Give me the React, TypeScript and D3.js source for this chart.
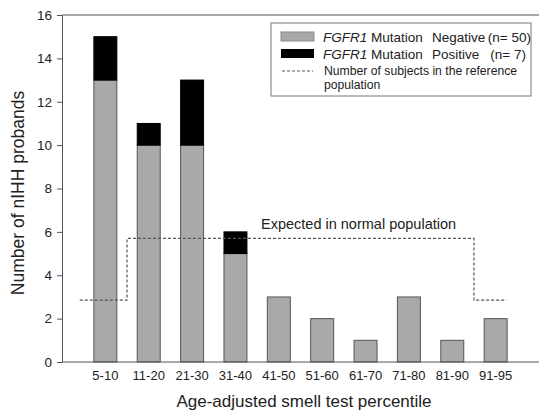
import { useEffect, useRef } from 'react';
import * as d3 from 'd3';

const categories = ['5-10', '11-20', '21-30', '31-40', '41-50', '51-60', '61-70', '71-80', '81-90', '91-95'];
const negative = [13, 10, 10, 5, 3, 2, 1, 3, 1, 2];
const positive = [2, 1, 3, 1, 0, 0, 0, 0, 0, 0];
const expected = [2.85, 5.7, 5.7, 5.7, 5.7, 5.7, 5.7, 5.7, 5.7, 2.85];
const yTicks = [0, 2, 4, 6, 8, 10, 12, 14, 16];

const FONT = 'Arial, "Liberation Sans", sans-serif';

const App = () => {
  const svgRef = useRef<SVGSVGElement>(null);

  useEffect(() => {
    const svg = d3.select(svgRef.current);
    svg.selectAll('*').remove();

    const left = 62;
    const right = 539;
    const top = 15;
    const bottom = 362;

    const x = d3.scaleLinear().domain([0, 11]).range([left, right]);
    const y = d3.scaleLinear().domain([0, 16]).range([bottom, top]);
    const barW = x(0.53) - x(0);

    // bars: negative (gray) then positive stacked on top
    categories.forEach((c, i) => {
      const cx = x(i + 1);
      svg.append('rect')
        .attr('x', cx - barW / 2)
        .attr('y', y(negative[i]))
        .attr('width', barW)
        .attr('height', y(0) - y(negative[i]))
        .attr('fill', '#a9a9a9')
        .attr('stroke', '#555')
        .attr('stroke-width', 1);
      if (positive[i] > 0) {
        svg.append('rect')
          .attr('x', cx - barW / 2)
          .attr('y', y(negative[i] + positive[i]))
          .attr('width', barW)
          .attr('height', y(negative[i]) - y(negative[i] + positive[i]))
          .attr('fill', '#000')
          .attr('stroke', '#000')
          .attr('stroke-width', 1);
      }
    });

    // expected population step line
    const pts: [number, number][] = expected.map((v, i) => [i + 1, v]);
    pts.unshift([0.41, expected[0]]);
    pts.push([10.25, expected[expected.length - 1]]);
    const line = d3.line<[number, number]>()
      .x((d) => x(d[0]))
      .y((d) => y(d[1]))
      .curve(d3.curveStep);
    svg.append('path')
      .datum(pts)
      .attr('d', line)
      .attr('fill', 'none')
      .attr('stroke', '#555')
      .attr('stroke-width', 1.2)
      .attr('stroke-dasharray', '3,2');

    svg.append('text')
      .attr('x', 261)
      .attr('y', 229)
      .attr('font-family', FONT)
      .attr('font-size', 14.5)
      .attr('fill', '#222')
      .text('Expected in normal population');

    // frame lines
    svg.append('line')
      .attr('x1', left).attr('x2', right)
      .attr('y1', top).attr('y2', top)
      .attr('stroke', '#555');
    svg.append('line')
      .attr('x1', left).attr('x2', right)
      .attr('y1', bottom).attr('y2', bottom)
      .attr('stroke', '#555');

    // y axis
    const yAxis = svg.append('g')
      .attr('transform', `translate(${left},0)`)
      .call(d3.axisLeft(y).tickValues(yTicks).tickSize(5).tickPadding(5));
    yAxis.select('.domain').attr('stroke', '#555');
    yAxis.selectAll('line').attr('stroke', '#555');
    yAxis.selectAll('text')
      .attr('font-family', FONT)
      .attr('font-size', 13.5)
      .attr('fill', '#222');

    // x labels
    categories.forEach((c, i) => {
      svg.append('text')
        .attr('x', x(i + 1))
        .attr('y', 380)
        .attr('text-anchor', 'middle')
        .attr('font-family', FONT)
        .attr('font-size', 13)
        .attr('fill', '#222')
        .text(c);
    });

    svg.append('text')
      .attr('x', 304)
      .attr('y', 407)
      .attr('text-anchor', 'middle')
      .attr('font-family', FONT)
      .attr('font-size', 17)
      .attr('fill', '#222')
      .text('Age-adjusted smell test percentile');

    svg.append('text')
      .attr('transform', 'rotate(-90)')
      .attr('x', -193)
      .attr('y', 24)
      .attr('text-anchor', 'middle')
      .attr('font-family', FONT)
      .attr('font-size', 17.5)
      .attr('fill', '#222')
      .text('Number of nIHH probands');

    // legend
    const lg = svg.append('g');
    lg.append('rect')
      .attr('x', 271).attr('y', 23)
      .attr('width', 260).attr('height', 73)
      .attr('fill', '#fff')
      .attr('stroke', '#777');
    lg.append('rect')
      .attr('x', 281).attr('y', 32).attr('width', 33).attr('height', 9)
      .attr('fill', '#a9a9a9').attr('stroke', '#888');
    lg.append('rect')
      .attr('x', 281).attr('y', 49).attr('width', 33).attr('height', 9)
      .attr('fill', '#000');
    lg.append('line')
      .attr('x1', 282).attr('x2', 313)
      .attr('y1', 71).attr('y2', 71)
      .attr('stroke', '#555')
      .attr('stroke-dasharray', '3,2');

    const row = (yy: number, status: string, n: string, nEnd: number) => {
      const t = lg.append('text')
        .attr('x', 323).attr('y', yy)
        .attr('font-family', FONT)
        .attr('font-size', 13.5)
        .attr('fill', '#222');
      t.append('tspan').attr('font-style', 'italic').text('FGFR1');
      t.append('tspan').text(' Mutation');
      lg.append('text')
        .attr('x', 432).attr('y', yy)
        .attr('font-family', FONT)
        .attr('font-size', 13.5)
        .attr('fill', '#222')
        .text(status);
      lg.append('text')
        .attr('x', nEnd).attr('y', yy)
        .attr('text-anchor', 'end')
        .attr('font-family', FONT)
        .attr('font-size', 13.5)
        .attr('fill', '#222')
        .text(n);
    };
    row(42, 'Negative', '(n= 50)', 531);
    row(59, 'Positive', '(n= 7)', 526);

    lg.append('text')
      .attr('x', 324).attr('y', 75)
      .attr('font-family', FONT)
      .attr('font-size', 12.2)
      .attr('fill', '#222')
      .text('Number of subjects in the reference');
    lg.append('text')
      .attr('x', 324).attr('y', 89)
      .attr('font-family', FONT)
      .attr('font-size', 12.2)
      .attr('fill', '#222')
      .text('population');
  }, []);

  return (
    <svg
      ref={svgRef}
      width={539}
      height={413}
      style={{ position: 'absolute', left: 0, top: 0, background: '#fff' }}
    />
  );
};

export default App;
